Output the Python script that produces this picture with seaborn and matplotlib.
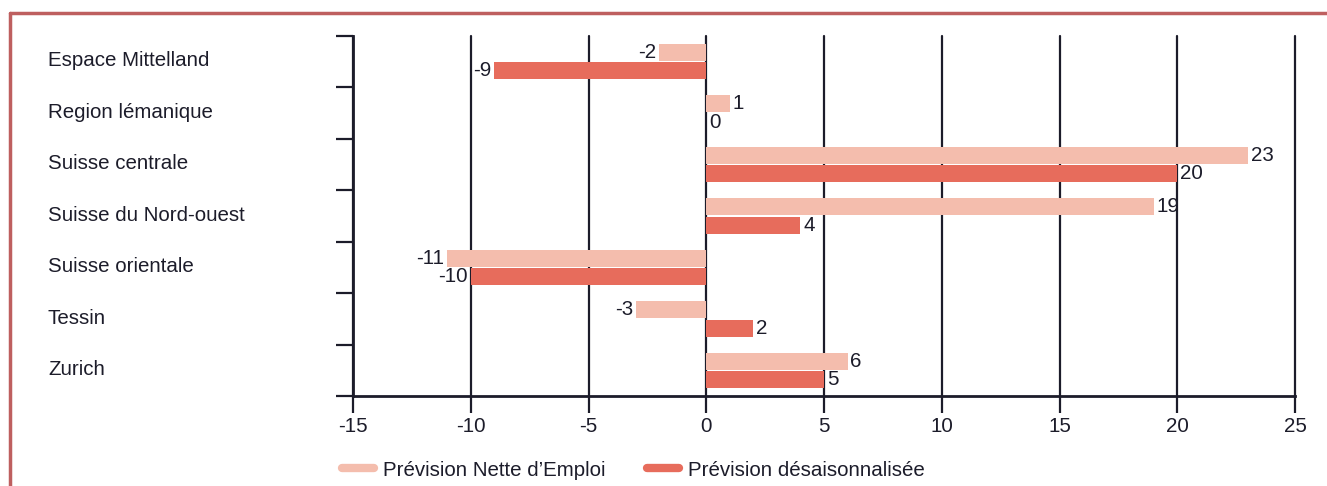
import pandas as pd
import matplotlib.pyplot as plt
import matplotlib.transforms as mtransforms
import seaborn as sns
from matplotlib.lines import Line2D

regions = ['Espace Mittelland', 'Region lémanique', 'Suisse centrale',
           'Suisse du Nord-ouest', 'Suisse orientale', 'Tessin', 'Zurich']
nette = [-2, 1, 23, 19, -11, -3, 6]
desais = [-9, 0, 20, 4, -10, 2, 5]
series = ['Prévision Nette d’Emploi', 'Prévision désaisonnalisée']
xticks = [-15, -10, -5, 0, 5, 10, 15, 20, 25]

light = '#F4BDAD'
dark = '#E76C5C'
ink = '#1C1C2A'

df = pd.DataFrame({
    'Region': regions * 2,
    'Valeur': nette + desais,
    'Serie': [series[0]] * len(regions) + [series[1]] * len(regions),
})

sns.set_style('white')
plt.rcParams['font.family'] = ['Liberation Sans', 'DejaVu Sans']
fs = 14.8

fig = plt.figure(figsize=(13.27, 4.86), dpi=100)
ax = fig.add_axes([353 / 1327, 1 - 396 / 486, (1295 - 353) / 1327, (396 - 36) / 486])

sns.barplot(data=df, y='Region', x='Valeur', hue='Serie', orient='h',
            palette=[light, dark], width=0.72, gap=0.08, ax=ax, legend=False,
            saturation=1, linewidth=0, edgecolor='none', zorder=3)

ax.set_xlim(-15, 25)
ax.set_ylim(len(regions) - 0.5, -0.5)
ax.set_xticks(xticks)
ax.set_xticklabels([str(t) for t in xticks], fontsize=fs, color=ink)
ax.set_xlabel('')
ax.set_ylabel('')

for t in xticks:
    ax.axvline(t, color=ink, lw=1.6, zorder=1, clip_on=False)

ax.set_yticks(range(len(regions)))
ax.set_yticks([i - 0.5 for i in range(len(regions) + 1)], minor=True)
ax.tick_params(axis='y', which='major', left=True, length=0, pad=305 * 0.72)
ax.tick_params(axis='y', which='minor', left=True, length=12, width=1.6, color=ink)
ax.tick_params(axis='x', which='major', bottom=True, length=12, width=1.6, color=ink, pad=3)
shift = mtransforms.ScaledTranslation(0, 2 / 72, fig.dpi_scale_trans)
for lab in ax.get_yticklabels():
    lab.set_horizontalalignment('left')
    lab.set_fontsize(fs)
    lab.set_color(ink)
    lab.set_transform(lab.get_transform() + shift)

for side in ['top', 'right']:
    ax.spines[side].set_visible(False)
for side in ['left', 'bottom']:
    ax.spines[side].set_color(ink)
    ax.spines[side].set_linewidth(2)
    ax.spines[side].set_zorder(4)

for cont in ax.containers:
    ax.bar_label(cont, labels=[f'{b.get_width():g}' for b in cont],
                 padding=2, fontsize=fs, color=ink)

handles = [Line2D([0], [0], color=light, lw=6, solid_capstyle='round'),
           Line2D([0], [0], color=dark, lw=6, solid_capstyle='round')]
fig.legend(handles, series, loc='center left', bbox_to_anchor=(342 / 1327, 1 - 470 / 486),
           ncol=2, frameon=False, fontsize=fs, handlelength=1.55, handletextpad=0.45,
           columnspacing=2.0, labelcolor=ink, borderaxespad=0, borderpad=0)

border = '#BE5F5F'
fig.add_artist(Line2D([10 / 1327, 1], [1 - 13 / 486, 1 - 13 / 486], color=border, lw=2.5,
                      transform=fig.transFigure))
fig.add_artist(Line2D([10 / 1327, 10 / 1327], [0, 1 - 13 / 486], color=border, lw=2.5,
                      transform=fig.transFigure))

plt.savefig('out.png', dpi=100)
